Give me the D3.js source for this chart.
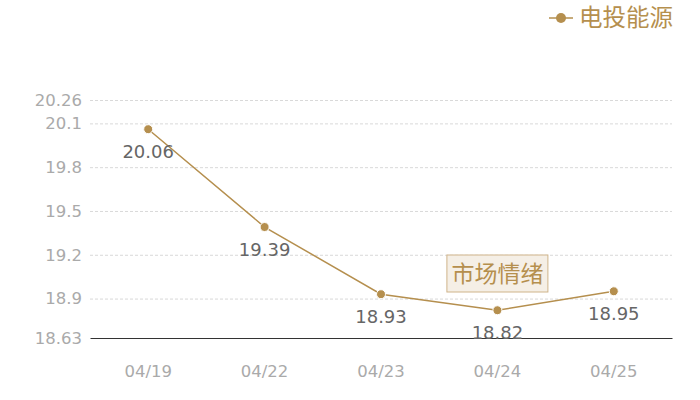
<!DOCTYPE html>
<html>
<head>
<meta charset="utf-8">
<script src="https://cdn.jsdelivr.net/npm/d3@7"></script>
<style>
  body { margin: 0; background: #fff; }
  svg text { font-family: "Noto Sans CJK SC", "Noto Sans", sans-serif; }
  svg text.num { font-family: "DejaVu Sans", sans-serif; }
</style>
</head>
<body>
<div class="chart-container"></div>
<script>
/********** the Data **********/
const dates = ["04/19", "04/22", "04/23", "04/24", "04/25"];
const prices = [20.06, 19.39, 18.93, 18.82, 18.95];
const yTicks = [18.63, 18.9, 19.2, 19.5, 19.8, 20.1, 20.26];
const seriesName = "电投能源";
const watermark = "市场情绪";

/***** Chart dimensions *****/
let width = 700, height = 400;
let margin = {top: 100, right: 28, bottom: 62, left: 90};
let lineColor = "#b58f4e";

let svg = d3.select(".chart-container")
  .append("svg")
    .attr("width", width)
    .attr("height", height);

/***** X-scale and Y-scale *****/
let xScale = d3.scaleBand()
  .domain(dates)
  .range([margin.left, width - margin.right]);

let yScale = d3.scaleLinear()
  .domain([18.63, 20.26])
  .range([height - margin.bottom, margin.top]);

let cx = d => xScale(d) + xScale.bandwidth() / 2;

// grid lines
svg.append("g")
  .attr("class", "grid")
  .attr("transform", `translate(${margin.left}, 0)`)
  .call(d3.axisLeft(yScale).tickValues(yTicks.slice(1))
    .tickSize(-(width - margin.left - margin.right)).tickFormat(""))
  .call(g => g.select(".domain").remove())
  .call(g => g.selectAll("line")
    .attr("stroke", "#d9d9d9").attr("stroke-dasharray", "3,2"));

// y-axis labels
svg.append("g")
  .attr("class", "y-axis")
  .attr("transform", `translate(${margin.left}, 0)`)
  .call(d3.axisLeft(yScale).tickValues(yTicks).tickSize(0).tickPadding(8)
    .tickFormat(d => String(d)))
  .call(g => g.select(".domain").remove())
  .call(g => g.selectAll("text")
    .attr("class", "num")
    .attr("fill", "#aaa").style("font-size", "16.5px"));

// x-axis
svg.append("g")
  .attr("class", "x-axis")
  .attr("transform", `translate(0, ${height - margin.bottom})`)
  .call(d3.axisBottom(xScale).tickSize(0).tickPadding(27))
  .call(g => g.select(".domain").attr("stroke", "#333"))
  .call(g => g.selectAll("text")
    .attr("class", "num")
    .attr("fill", "#aaa").style("font-size", "16.5px"));

// watermark box
let wm = svg.append("g")
  .attr("transform", `translate(${cx("04/24")}, 273.5)`);
wm.append("rect")
  .attr("x", -50.5).attr("y", -18.5)
  .attr("width", 101).attr("height", 37)
  .attr("fill", "#f5efe6")
  .attr("stroke", "#cfb48a");
wm.append("text")
  .attr("text-anchor", "middle")
  .attr("dy", "0.36em")
  .attr("fill", lineColor)
  .style("font-size", "23px")
  .text(watermark);

// the line
let pts = dates.map((d, i) => ({date: d, value: prices[i]}));
svg.append("path")
  .datum(pts)
  .attr("fill", "none")
  .attr("stroke", lineColor)
  .attr("stroke-width", 1.5)
  .attr("d", d3.line().x(d => cx(d.date)).y(d => yScale(d.value)));

svg.selectAll(".dot")
    .data(pts)
  .enter().append("circle")
    .attr("class", "dot")
    .attr("cx", d => cx(d.date))
    .attr("cy", d => yScale(d.value))
    .attr("r", 4.5)
    .attr("fill", lineColor)
    .attr("stroke", "#fff")
    .attr("stroke-width", 1);

// value labels below each point
svg.selectAll(".val")
    .data(pts)
  .enter().append("text")
    .attr("class", "val num")
    .attr("x", d => cx(d.date))
    .attr("y", d => yScale(d.value) + 29)
    .attr("text-anchor", "middle")
    .attr("fill", "#666")
    .style("font-size", "18px")
    .text(d => d.value.toFixed(2));

// legend
let lg = svg.append("g").attr("transform", "translate(549, 18)");
lg.append("line").attr("x1", 0).attr("x2", 24)
  .attr("stroke", lineColor).attr("stroke-width", 1.5);
lg.append("circle").attr("cx", 12).attr("r", 5).attr("fill", lineColor);
lg.append("text")
  .attr("x", 30).attr("dy", "0.36em")
  .attr("fill", lineColor)
  .style("font-size", "23.5px")
  .text(seriesName);
</script>
</body>
</html>
